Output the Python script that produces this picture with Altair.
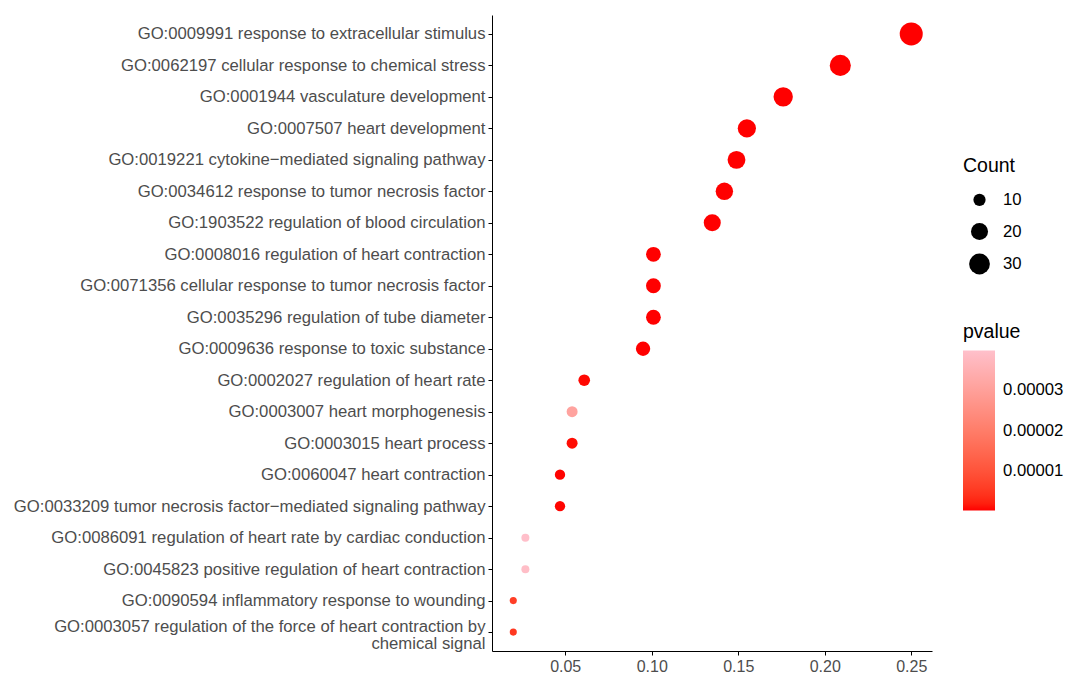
import altair as alt
import pandas as pd

terms = [
    "GO:0009991 response to extracellular stimulus",
    "GO:0062197 cellular response to chemical stress",
    "GO:0001944 vasculature development",
    "GO:0007507 heart development",
    "GO:0019221 cytokine\u2212mediated signaling pathway",
    "GO:0034612 response to tumor necrosis factor",
    "GO:1903522 regulation of blood circulation",
    "GO:0008016 regulation of heart contraction",
    "GO:0071356 cellular response to tumor necrosis factor",
    "GO:0035296 regulation of tube diameter",
    "GO:0009636 response to toxic substance",
    "GO:0002027 regulation of heart rate",
    "GO:0003007 heart morphogenesis",
    "GO:0003015 heart process",
    "GO:0060047 heart contraction",
    "GO:0033209 tumor necrosis factor\u2212mediated signaling pathway",
    "GO:0086091 regulation of heart rate by cardiac conduction",
    "GO:0045823 positive regulation of heart contraction",
    "GO:0090594 inflammatory response to wounding",
    "GO:0003057 regulation of the force of heart contraction by\nchemical signal",
]
gene_ratio = [0.250, 0.209, 0.176, 0.155, 0.149, 0.142, 0.135, 0.101, 0.101, 0.101,
              0.095, 0.061, 0.054, 0.054, 0.047, 0.047, 0.027, 0.027, 0.020, 0.020]
counts = [37, 31, 26, 23, 22, 21, 20, 15, 15, 15, 14, 9, 8, 8, 7, 7, 4, 4, 3, 3]
pvalues = [1e-9, 2e-9, 5e-9, 3e-8, 1e-8, 4e-8, 2e-7, 5e-8, 6e-8, 1e-7,
           3e-7, 6e-7, 3.1e-5, 8e-7, 4e-7, 5e-7, 3.95e-5, 3.9e-5, 6e-6, 5e-6]

df = pd.DataFrame({"term": terms, "ratio": gene_ratio, "Count": counts, "pvalue": pvalues})

FONT = "Liberation Sans"
FS = 16.7

chart = alt.Chart(df).mark_circle(opacity=1).encode(
    x=alt.X("ratio:Q", title=None,
            scale=alt.Scale(domain=[0.0077, 0.262], nice=False, zero=False),
            axis=alt.Axis(values=[0.05, 0.10, 0.15, 0.20, 0.25], format=".2f",
                          grid=False, domainColor="black", tickColor="black",
                          labelColor="#4D4D4D", labelFontSize=16, labelFont=FONT,
                          tickSize=4, labelPadding=3)),
    y=alt.Y("term:N", title=None, sort=terms,
            scale=alt.Scale(type="point", padding=0.6),
            axis=alt.Axis(grid=False, domainColor="black", tickColor="black",
                          labelColor="#4D4D4D", labelFontSize=FS, labelFont=FONT,
                          tickSize=4, labelPadding=3, labelLimit=600,
                          labelExpr="split(datum.label, '\\n')",
                          labelBaseline="middle", labelLineHeight=17,
                          labelOffset={"condition": {"test": "indexof(datum.value, 'GO:0003057') >= 0",
                                                     "value": -6},
                                       "value": 0})),
    size=alt.Size("Count:Q",
                  scale=alt.Scale(domain=[3, 37], range=[50, 530], zero=False),
                  legend=alt.Legend(values=[10, 20, 30], orient="none",
                                    legendX=471, legendY=142,
                                    titleFontSize=19.5, titleFont=FONT, titleFontWeight="normal",
                                    titleColor="black", labelFontSize=FS, labelFont=FONT,
                                    labelColor="black", symbolFillColor="black",
                                    symbolStrokeWidth=0, symbolType="circle",
                                    symbolOffset=6,
                                    rowPadding=13, titlePadding=15, labelOffset=13)),
    color=alt.Color("pvalue:Q",
                    scale=alt.Scale(domain=[3e-7, 3.97e-5], range=["#FF0000", "#FFC0CB"],
                                    interpolate="lab", nice=False, zero=False),
                    legend=alt.Legend(values=[1e-5, 2e-5, 3e-5], format=".5f",
                                      orient="none", legendX=471, legendY=308,
                                      gradientLength=160, gradientThickness=32,
                                      gradientStrokeWidth=0,
                                      titleFontSize=19.5, titleFont=FONT, titleFontWeight="normal",
                                      titleColor="black", labelFontSize=FS, labelFont=FONT,
                                      labelColor="black", titlePadding=8, labelOffset=8)),
    order=alt.Order("Count:Q", sort="descending"),
).properties(
    width=440, height=636,
    background="white",
    padding={"left": 492, "top": 15, "right": 134, "bottom": 22},
    autosize=alt.AutoSizeParams(type="none"),
).configure_view(stroke=None, strokeWidth=0)

chart.save("out.html", embed_options={"renderer": "svg", "actions": False})
